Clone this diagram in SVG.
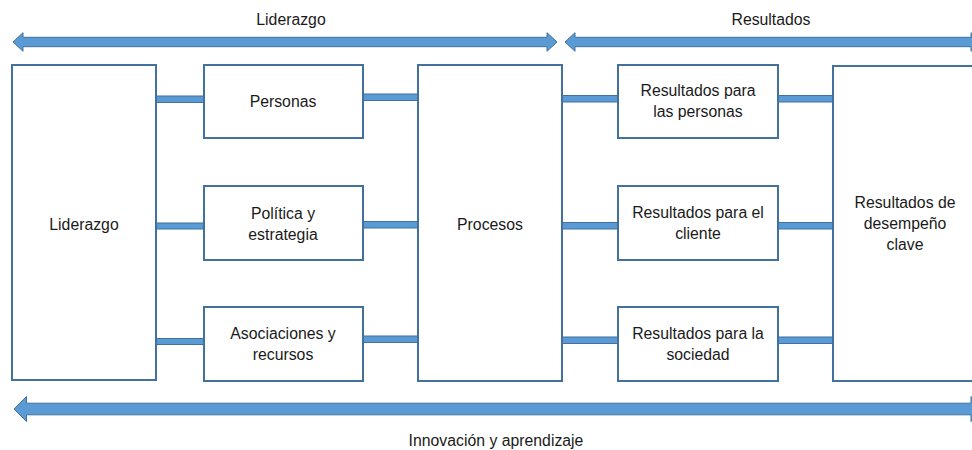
<svg xmlns="http://www.w3.org/2000/svg" width="972" height="450" viewBox="0 0 972 450">
  <style>
    .box { fill: #ffffff; stroke: #41719c; stroke-width: 2; }
    .bar { fill: #5b9bd5; stroke: #41719c; stroke-width: 1; }
    .arrow { fill: #5b9bd5; stroke: #41719c; stroke-width: 1; stroke-linejoin: miter; }
    text { font-family: "Liberation Sans", Arial, sans-serif; font-size: 15.8px; fill: #1a1a1a; text-anchor: middle; }
  </style>
  <rect width="972" height="450" fill="#ffffff"/>

  <!-- Wide double-headed band arrows -->
  <g id="band-arrows">
    <path class="arrow" d="M13,42 L23,32.7 L23,37.3 L547,37.3 L547,32.7 L557,42 L547,51.3 L547,46.7 L23,46.7 L23,51.3 Z"/>
    <path class="arrow" d="M565,42 L575,32.7 L575,37.3 L971,37.3 L971,32.7 L981,42 L971,51.3 L971,46.7 L575,46.7 L575,51.3 Z"/>
    <path class="arrow" d="M14,409 L26.5,396.5 L26.5,403.2 L971,403.2 L971,396.5 L983,409 L971,421.5 L971,414.8 L26.5,414.8 L26.5,421.5 Z"/>
  </g>
  <text x="291" y="25">Liderazgo</text>
  <text x="771" y="25">Resultados</text>
  <text x="496" y="446">Innovación y aprendizaje</text>

  <!-- Connector bars between boxes -->
  <g id="connectors">
    <rect class="bar" x="156" y="96" width="48" height="6.5"/>
    <rect class="bar" x="363" y="94" width="55" height="6.5"/>
    <rect class="bar" x="156" y="223" width="48" height="6"/>
    <rect class="bar" x="363" y="221.5" width="55" height="6.5"/>
    <rect class="bar" x="156" y="338.5" width="48" height="6"/>
    <rect class="bar" x="363" y="336" width="55" height="6.5"/>
    <rect class="bar" x="562" y="95.5" width="56" height="6.5"/>
    <rect class="bar" x="778" y="95.5" width="55" height="6.5"/>
    <rect class="bar" x="562" y="222.5" width="56" height="6.5"/>
    <rect class="bar" x="778" y="222.5" width="55" height="6.5"/>
    <rect class="bar" x="562" y="337" width="56" height="6.5"/>
    <rect class="bar" x="778" y="337" width="55" height="6.5"/>
  </g>

  <g id="liderazgo">
    <rect class="box" x="12" y="65" width="144" height="315"/>
    <text x="84" y="230">Liderazgo</text>
  </g>
  <g id="personas">
    <rect class="box" x="204" y="65" width="159" height="73"/>
    <text x="283" y="107">Personas</text>
  </g>
  <g id="politica">
    <rect class="box" x="204" y="186" width="159" height="74"/>
    <text x="283" y="219">Política y</text>
    <text x="283" y="240">estrategia</text>
  </g>
  <g id="asociaciones">
    <rect class="box" x="204" y="307" width="159" height="74"/>
    <text x="283" y="339">Asociaciones y</text>
    <text x="283" y="360">recursos</text>
  </g>
  <g id="procesos">
    <rect class="box" x="418" y="65" width="144" height="316"/>
    <text x="490" y="230">Procesos</text>
  </g>
  <g id="res-personas">
    <rect class="box" x="618" y="65" width="160" height="73"/>
    <text x="698" y="96">Resultados para</text>
    <text x="698" y="117">las personas</text>
  </g>
  <g id="res-cliente">
    <rect class="box" x="618" y="186" width="160" height="74"/>
    <text x="698" y="218">Resultados para el</text>
    <text x="698" y="239">cliente</text>
  </g>
  <g id="res-sociedad">
    <rect class="box" x="618" y="307" width="160" height="74"/>
    <text x="698" y="339">Resultados para la</text>
    <text x="698" y="360">sociedad</text>
  </g>
  <g id="res-clave">
    <rect class="box" x="833" y="66" width="145" height="315"/>
    <text x="905" y="208">Resultados de</text>
    <text x="905" y="229">desempeño</text>
    <text x="905" y="250">clave</text>
  </g>
</svg>
